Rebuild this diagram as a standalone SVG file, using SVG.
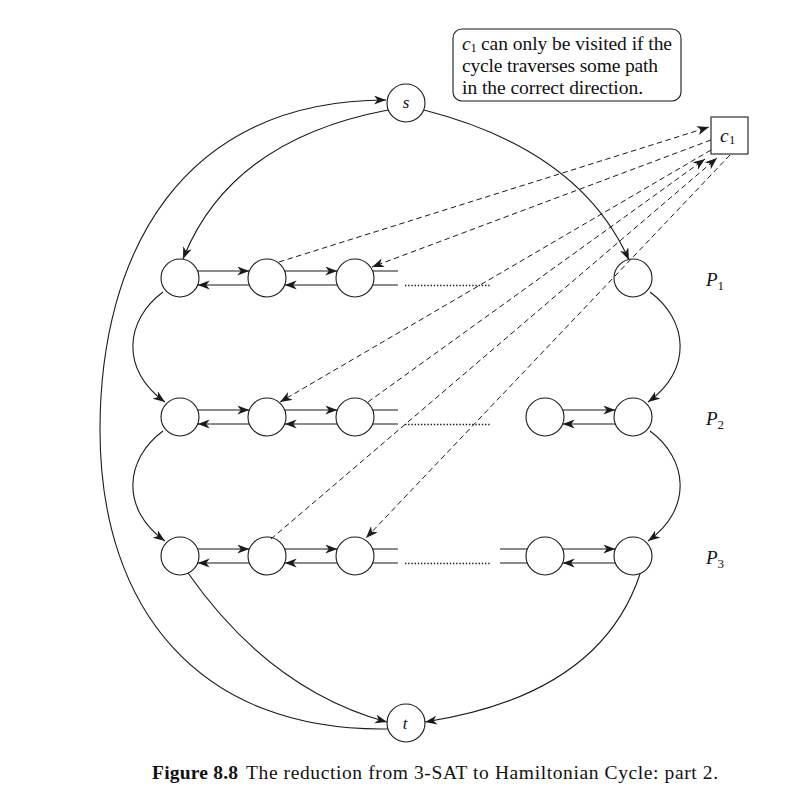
<svg xmlns="http://www.w3.org/2000/svg" width="797" height="801" viewBox="0 0 797 801">
<style>
.nd{fill:#fff;stroke:#1a1a1a;stroke-width:1.1}
.ln{fill:none;stroke:#1a1a1a;stroke-width:1.1}
.ds{fill:none;stroke:#1a1a1a;stroke-width:1;stroke-dasharray:5.5,3.5}
.dt{fill:none;stroke:#1a1a1a;stroke-width:1.3;stroke-dasharray:1.4,1.8}
.tx{font-family:"Liberation Serif",serif;fill:#111}
.it{font-style:italic}
</style>
<defs>
<marker id="ah" markerUnits="userSpaceOnUse" markerWidth="13" markerHeight="10" refX="12" refY="4.5" orient="auto">
<path d="M0,0 L12,4.5 L0,9 L3.5,4.5 z" fill="#1a1a1a"/>
</marker>
</defs>
<rect width="797" height="801" fill="#fff"/>

<g id="callout">
<rect x="453" y="29" width="228" height="72" rx="9" fill="#fff" stroke="#1a1a1a" stroke-width="1.1"/>
<text class="tx it" font-size="19.5" x="462" y="50">c</text>
<text class="tx" font-size="12.5" x="470.5" y="51.5">1</text>
<text class="tx" font-size="19.5" x="481" y="50" textLength="191" lengthAdjust="spacing">can only be visited if the</text>
<text class="tx" font-size="19.5" x="462" y="72" textLength="196" lengthAdjust="spacing">cycle traverses some path</text>
<text class="tx" font-size="19.5" x="462" y="93.5" textLength="181" lengthAdjust="spacing">in the correct direction.</text>
</g>

<g id="node-s"><circle class="nd" cx="406" cy="103" r="19"/><text class="tx it" font-size="17" x="406" y="108" text-anchor="middle">s</text></g>
<g id="node-t"><circle class="nd" cx="406" cy="723" r="19"/><text class="tx it" font-size="17" x="405" y="729" text-anchor="middle">t</text></g>
<g id="node-c1"><rect x="711" y="117" width="37" height="37" fill="#fff" stroke="#1a1a1a" stroke-width="1.1"/><text class="tx it" font-size="19.5" x="720" y="142">c</text><text class="tx" font-size="12.5" x="729" y="144">1</text></g>

<g id="p1-n1"><circle class="nd" cx="180" cy="278" r="19"/></g>
<g id="p1-n2"><circle class="nd" cx="267" cy="278" r="19"/></g>
<g id="p1-n3"><circle class="nd" cx="355" cy="278" r="19"/></g>
<g id="p1-n5"><circle class="nd" cx="633" cy="278" r="19"/></g>

<g id="p2-n1"><circle class="nd" cx="180" cy="417" r="19"/></g>
<g id="p2-n2"><circle class="nd" cx="267" cy="417" r="19"/></g>
<g id="p2-n3"><circle class="nd" cx="355" cy="417" r="19"/></g>
<g id="p2-n4"><circle class="nd" cx="545" cy="417" r="19"/></g>
<g id="p2-n5"><circle class="nd" cx="633" cy="417" r="19"/></g>

<g id="p3-n1"><circle class="nd" cx="180" cy="556" r="19"/></g>
<g id="p3-n2"><circle class="nd" cx="267" cy="556" r="19"/></g>
<g id="p3-n3"><circle class="nd" cx="355" cy="556" r="19"/></g>
<g id="p3-n4"><circle class="nd" cx="545" cy="556" r="19"/></g>
<g id="p3-n5"><circle class="nd" cx="633" cy="556" r="19"/></g>

<g id="labels">
<text class="tx" font-size="19" x="706" y="286"><tspan class="it">P</tspan><tspan font-size="13" dy="4">1</tspan></text>
<text class="tx" font-size="19" x="706" y="425"><tspan class="it">P</tspan><tspan font-size="13" dy="4">2</tspan></text>
<text class="tx" font-size="19" x="706" y="564"><tspan class="it">P</tspan><tspan font-size="13" dy="4">3</tspan></text>
</g>

<g id="connectors">
<path class="ln" d="M388,729 C200,732 100,610 100,430 C100,255 180,100 386,100" marker-end="url(#ah)"/>
<path class="ln" d="M388,110 Q230,140 183,259" marker-end="url(#ah)"/>
<path class="ln" d="M424,110 Q580,150 629,260" marker-end="url(#ah)"/>
<path class="ln" d="M163,292 C125,320 120,370 165,402" marker-end="url(#ah)"/>
<path class="ln" d="M163,431 C125,459 120,509 165,541" marker-end="url(#ah)"/>
<path class="ln" d="M650,292 C688,320 693,370 648,402" marker-end="url(#ah)"/>
<path class="ln" d="M650,431 C688,459 693,509 648,541" marker-end="url(#ah)"/>
<path class="ln" d="M188,573 Q270,690 387,722" marker-end="url(#ah)"/>
<path class="ln" d="M640,574 Q600,695 425,722" marker-end="url(#ah)"/>

<path class="ln" d="M197.7,271 L249.3,271" marker-end="url(#ah)"/>
<path class="ln" d="M249.3,285 L197.7,285" marker-end="url(#ah)"/>
<path class="ln" d="M284.7,271 L337.3,271" marker-end="url(#ah)"/>
<path class="ln" d="M337.3,285 L284.7,285" marker-end="url(#ah)"/>
<path class="ln" d="M372.7,271 L398,271 M372.7,285 L398,285"/>
<path class="dt" d="M405,285.5 L491,285.5"/>

<path class="ln" d="M197.7,410 L249.3,410" marker-end="url(#ah)"/>
<path class="ln" d="M249.3,424 L197.7,424" marker-end="url(#ah)"/>
<path class="ln" d="M284.7,410 L337.3,410" marker-end="url(#ah)"/>
<path class="ln" d="M337.3,424 L284.7,424" marker-end="url(#ah)"/>
<path class="ln" d="M372.7,410 L398,410 M372.7,424 L398,424"/>
<path class="dt" d="M405,424.5 L491,424.5"/>
<path class="ln" d="M562.7,410 L615.3,410" marker-end="url(#ah)"/>
<path class="ln" d="M615.3,424 L562.7,424" marker-end="url(#ah)"/>

<path class="ln" d="M197.7,549 L249.3,549" marker-end="url(#ah)"/>
<path class="ln" d="M249.3,563 L197.7,563" marker-end="url(#ah)"/>
<path class="ln" d="M284.7,549 L337.3,549" marker-end="url(#ah)"/>
<path class="ln" d="M337.3,563 L284.7,563" marker-end="url(#ah)"/>
<path class="ln" d="M372.7,549 L398,549 M372.7,563 L398,563"/>
<path class="dt" d="M405,563.5 L491,563.5"/>
<path class="ln" d="M500,549 L527.3,549 M500,563 L527.3,563"/>
<path class="ln" d="M562.7,549 L615.3,549" marker-end="url(#ah)"/>
<path class="ln" d="M615.3,563 L562.7,563" marker-end="url(#ah)"/>

<path class="ds" d="M279,262 L709,127" marker-end="url(#ah)"/>
<path class="ds" d="M711,140 L372,267" marker-end="url(#ah)"/>
<path class="ds" d="M711,150 L280,402" marker-end="url(#ah)"/>
<path class="ds" d="M368,402 L705,159" marker-end="url(#ah)"/>
<path class="ds" d="M271,539 L717,158" marker-end="url(#ah)"/>
<path class="ds" d="M730,155 L366,538" marker-end="url(#ah)"/>
</g>

<g id="caption">
<text class="tx" font-size="19.5" font-weight="bold" x="152" y="779" textLength="86" lengthAdjust="spacing">Figure 8.8</text>
<text class="tx" font-size="19.5" x="246" y="779" textLength="472" lengthAdjust="spacing">The reduction from 3-SAT to Hamiltonian Cycle: part 2.</text>
</g>
</svg>
